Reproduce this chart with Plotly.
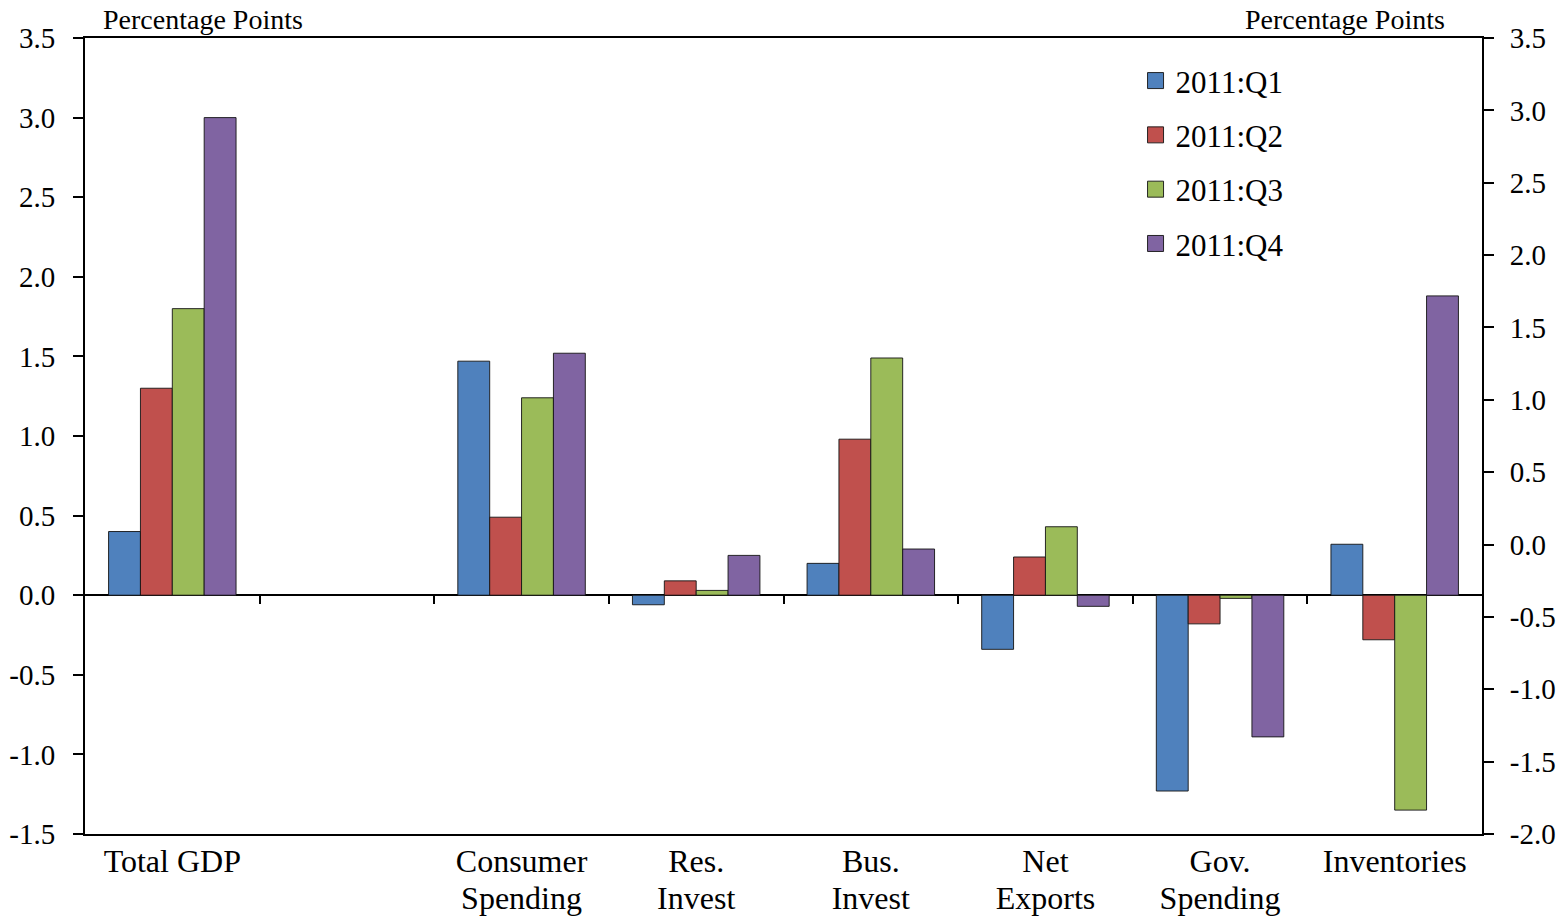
import plotly.graph_objects as go

categories = ["Total GDP", " ", "Consumer<br>Spending", "Res.<br>Invest", "Bus.<br>Invest",
              "Net<br>Exports", "Gov.<br>Spending", "Inventories"]
series_names = ["2011:Q1", "2011:Q2", "2011:Q3", "2011:Q4"]
q1 = [0.40, None, 1.47, -0.06, 0.20, -0.34, -1.23, 0.32]
q2 = [1.30, None, 0.49, 0.09, 0.98, 0.24, -0.18, -0.28]
q3 = [1.80, None, 1.24, 0.03, 1.49, 0.43, -0.02, -1.35]
q4 = [3.00, None, 1.52, 0.25, 0.29, -0.07, -0.89, 1.88]
colors = ["#4F81BD", "#C0504D", "#9BBB59", "#8064A2"]

left_ticks = [-1.5, -1.0, -0.5, 0.0, 0.5, 1.0, 1.5, 2.0, 2.5, 3.0, 3.5]
left_labels = ["-1.5", "-1.0", "-0.5", "0.0", "0.5", "1.0", "1.5", "2.0", "2.5", "3.0", "3.5"]
right_ticks = [-2.0, -1.5, -1.0, -0.5, 0.0, 0.5, 1.0, 1.5, 2.0, 2.5, 3.0, 3.5]
right_labels = ["-2.0", "-1.5", "-1.0", "-0.5", "0.0", "0.5", "1.0", "1.5", "2.0", "2.5", "3.0", "3.5"]

left_range = [left_ticks[0], left_ticks[-1]]
right_range = [right_ticks[0], right_ticks[-1]]

line1 = [c.split("<br>")[0] for c in categories]
line2 = [c.split("<br>")[1] if "<br>" in c else "" for c in categories]

FONT = "Liberation Serif"
TICK_FS = 29
CAT_FS = 32
LEG_FS = 31
ANN_FS = 28
LINE_GAP = 44

fig = go.Figure()
for i, (name, vals) in enumerate(zip(series_names, [q1, q2, q3, q4])):
    fig.add_trace(go.Bar(
        x=categories, y=vals, name=name, showlegend=False,
        marker=dict(color=colors[i], line=dict(color="rgba(20,20,20,0.9)", width=1)),
    ))
# legend entries with larger square swatches
for i, name in enumerate(series_names):
    fig.add_trace(go.Scatter(
        x=[None], y=[None], name=name, mode="markers", legendgroup=name,
        marker=dict(symbol="square", size=16, color=colors[i],
                    line=dict(color="rgba(20,20,20,0.9)", width=1)),
        hoverinfo="skip",
    ))

# invisible traces to activate the secondary axes
fig.add_trace(go.Scatter(x=[None], y=[None], xaxis="x2", yaxis="y",
                         showlegend=False, hoverinfo="skip", mode="markers"))
fig.add_trace(go.Scatter(x=[None], y=[None], xaxis="x3", yaxis="y",
                         showlegend=False, hoverinfo="skip", mode="markers"))
fig.add_trace(go.Scatter(x=[categories[0]], y=[None], xaxis="x", yaxis="y2",
                         showlegend=False, hoverinfo="skip", mode="markers"))

zero_pos = (0 - left_range[0]) / (left_range[1] - left_range[0])
boundaries = [i + 0.5 for i in range(len(categories) - 1)]
centers = list(range(len(categories)))
xr = [-0.5, len(categories) - 0.5]

fig.update_layout(
    width=1560, height=909,
    margin=dict(l=77, r=86, t=30, b=83, autoexpand=False),
    paper_bgcolor="white", plot_bgcolor="white",
    font=dict(family=FONT, size=TICK_FS, color="black"),
    barmode="group", bargap=0.27, bargroupgap=0,
    showlegend=True,
    legend=dict(x=0.752, y=0.98, xanchor="left", yanchor="top",
                font=dict(family=FONT, size=LEG_FS), tracegroupgap=11,
                bgcolor="rgba(0,0,0,0)"),
    xaxis=dict(type="category", categoryarray=categories, categoryorder="array",
               tickvals=categories, ticktext=line1,
               showline=True, linecolor="black", linewidth=2, mirror=True,
               ticks="", showgrid=False, tickfont=dict(family=FONT, size=CAT_FS),
               ticklabelstandoff=-2, range=xr, automargin=False),
    xaxis2=dict(overlaying="x", anchor="free", position=zero_pos, side="bottom",
                range=xr, tickvals=boundaries,
                showticklabels=False, ticks="outside", ticklen=8, tickwidth=2,
                tickcolor="black", showline=False, showgrid=False, zeroline=False),
    xaxis3=dict(overlaying="x", anchor="y", side="bottom", range=xr,
                tickvals=centers, ticktext=line2, ticks="", showline=False,
                showgrid=False, zeroline=False, automargin=False,
                ticklabelstandoff=-2 + LINE_GAP,
                tickfont=dict(family=FONT, size=CAT_FS)),
    yaxis=dict(range=left_range, tickvals=left_ticks, ticktext=left_labels,
               showline=True, linecolor="black", linewidth=2,
               ticks="outside", ticklen=10, tickwidth=2, tickcolor="black",
               ticklabelstandoff=12, automargin=False,
               showgrid=False, zeroline=True, zerolinecolor="black", zerolinewidth=2,
               tickfont=dict(family=FONT, size=TICK_FS)),
    yaxis2=dict(range=right_range, tickvals=right_ticks, ticktext=right_labels,
                overlaying="y", side="right",
                anchor="x", showline=True, linecolor="black", linewidth=2,
                ticks="outside", ticklen=10, tickwidth=2, tickcolor="black",
                ticklabelstandoff=10, automargin=False,
                showgrid=False, zeroline=False, tickfont=dict(family=FONT, size=TICK_FS)),
    annotations=[
        dict(text="Percentage Points", xref="paper", yref="paper", x=0.0129, y=1,
             xanchor="left", yanchor="bottom", showarrow=False, yshift=3,
             borderpad=0, borderwidth=0,
             font=dict(family=FONT, size=ANN_FS)),
        dict(text="Percentage Points", xref="paper", yref="paper", x=0.9735, y=1,
             xanchor="right", yanchor="bottom", showarrow=False, yshift=3,
             borderpad=0, borderwidth=0,
             font=dict(family=FONT, size=ANN_FS)),
    ],
)

fig.write_html("out.html")
